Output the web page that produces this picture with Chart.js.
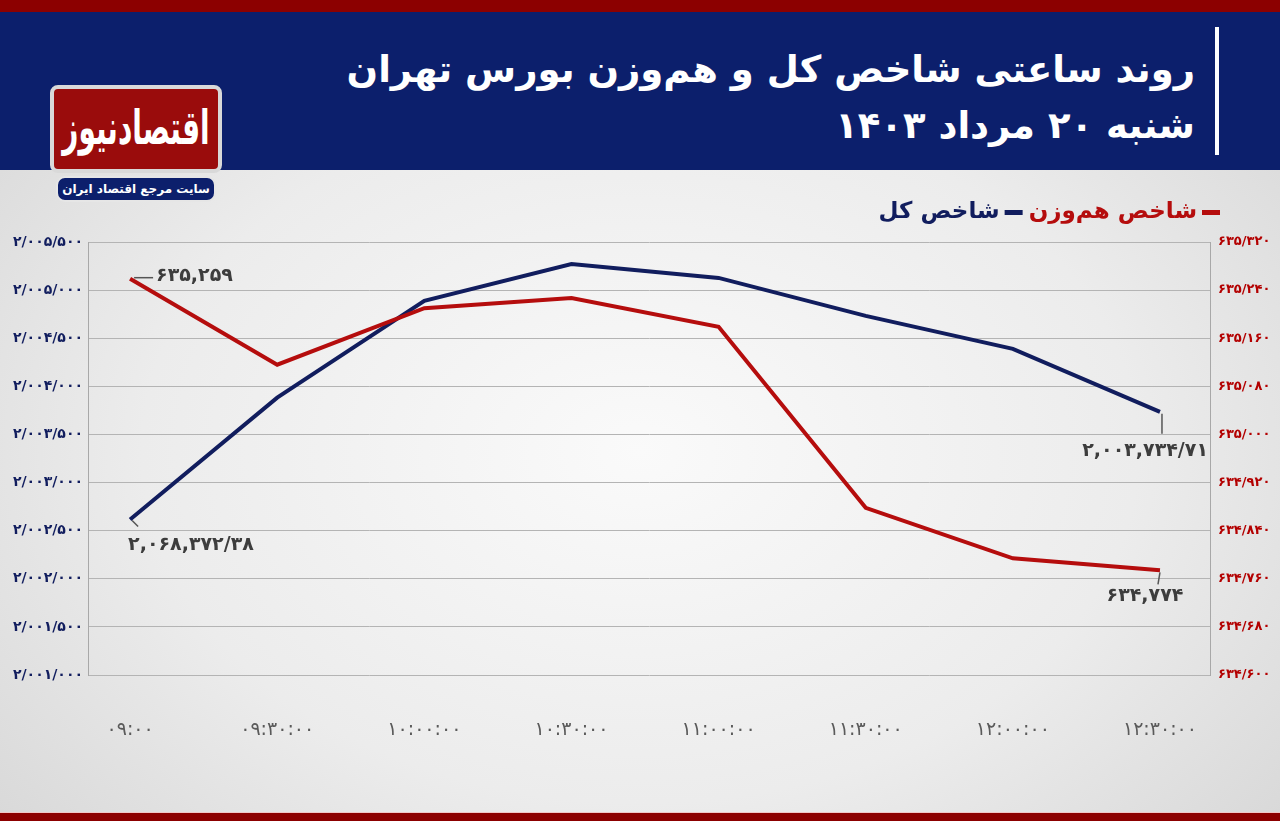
<!DOCTYPE html>
<html lang="fa">
  <head>
    <meta charset="UTF-8" />
    <title>شاخص کل و هم‌وزن</title>
    <script src="https://cdn.jsdelivr.net/npm/chart.js@4.4.0/dist/chart.umd.min.js"></script>
    <style>
      html, body { margin: 0; padding: 0; }
      body {
        width: 1280px; height: 821px; position: relative; overflow: hidden;
        background: radial-gradient(ellipse at 50% 55%, #fafafa 0%, #ececec 55%, #d4d4d4 100%);
        font-family: "DejaVu Sans", sans-serif;
      }
      #topband { position: absolute; left: 0; top: 0; width: 1280px; height: 12px; background: #8c0000; }
      #header { position: absolute; left: 0; top: 12px; width: 1280px; height: 158px; background: #0c1f6c; }
      #title {
        position: absolute; right: 85px; top: 30px; direction: rtl; text-align: right;
        color: #fff; font-weight: bold; font-size: 37px; line-height: 56px; white-space: nowrap;
      }
      #vline { position: absolute; left: 1215px; top: 15px; width: 4px; height: 128px; background: #fff; }
      #logo {
        position: absolute; left: 50px; top: 85px; width: 172px; height: 88px; box-sizing: border-box;
        border: 4px solid #d9d9d9; border-radius: 8px; background: #9a0c0c; overflow: hidden;
        color: #fff; font-weight: bold; font-size: 28px; text-align: center; line-height: 80px; direction: rtl;
      }
      #logo span { display: inline-block; transform: scale(1, 1.7); letter-spacing: -1px; }
      #pill {
        position: absolute; left: 56px; top: 176px; width: 160px; height: 26px; box-sizing: border-box;
        border: 2px solid #e6e6e6; border-radius: 9px; background: #0c1f6c;
        color: #fff; font-weight: bold; font-size: 12px; text-align: center; line-height: 22px; direction: rtl;
      }
      #bottomband { position: absolute; left: 0; top: 812px; width: 1280px; height: 9px; background: #8c0000; border-top: 1px solid #f0c8c8; }
      #myChart { position: absolute; left: 0; top: 170px; }
    </style>
  </head>
  <body>
    <div id="topband"></div>
    <div id="header">
      <div id="title">روند ساعتی شاخص کل و هم‌وزن بورس تهران<br>شنبه ۲۰ مرداد ۱۴۰۳</div>
      <div id="vline"></div>
    </div>
    <div id="logo"><span>اقتصادنیوز</span></div>
    <div id="pill">سایت مرجع اقتصاد ایران</div>
    <div id="bottomband"></div>
    <canvas id="myChart" width="1280" height="640"></canvas>

    <script>
      // chart data
      const times = ['09:00', '09:30:00', '10:00:00', '10:30:00', '11:00:00', '11:30:00', '12:00:00', '12:30:00'];
      const hamvaznValues = [635259, 635116, 635210, 635227, 635179, 634878, 634794, 634774];
      const kolValues = [2002616, 2003882, 2004888, 2005272, 2005127, 2004732, 2004390, 2003735];
      const seriesNames = ['شاخص هم‌وزن', 'شاخص کل'];
      const leftTicks = { min: 2001000, max: 2005500, step: 500 };
      const rightTicks = { min: 634600, max: 635320, step: 80 };
      // labels written at the first and last points (as printed on the picture)
      const hamvaznEndLabels = ['635,259', '634,774'];
      const kolEndLabels = ['2,068,372/38', '2,003,734/71'];

      const RED = '#b50d0d';
      const NAVY = '#111d5e';
      const FA = 'DejaVu Sans';

      function fa(s) {
        return String(s).replace(/\d/g, d => '۰۱۲۳۴۵۶۷۸۹'[d]);
      }
      function slashNum(v) {
        return fa(Math.round(v).toLocaleString('en-US').replace(/,/g, '/'));
      }

      // point labels, legend
      const extras = {
        id: 'extras',
        afterDatasetsDraw(chart) {
          const ctx = chart.ctx;
          const red = chart.getDatasetMeta(0).data;
          const blue = chart.getDatasetMeta(1).data;
          const last = times.length - 1;
          ctx.save();
          ctx.strokeStyle = '#555';
          ctx.lineWidth = 1.5;
          ctx.fillStyle = '#3d3d3d';
          ctx.font = 'bold 19px "' + FA + '"';
          ctx.direction = 'ltr';
          ctx.textBaseline = 'middle';

          // hamvazn first
          let p = red[0];
          ctx.beginPath(); ctx.moveTo(p.x + 4, p.y - 1); ctx.lineTo(p.x + 23, p.y - 1); ctx.stroke();
          ctx.textAlign = 'left';
          ctx.fillText(fa(hamvaznEndLabels[0]), p.x + 26, p.y - 3);
          // hamvazn last
          p = red[last];
          ctx.beginPath(); ctx.moveTo(p.x, p.y + 2); ctx.lineTo(p.x - 2, p.y + 14); ctx.stroke();
          ctx.textAlign = 'center';
          ctx.fillText(fa(hamvaznEndLabels[1]), p.x - 15, p.y + 26);
          // kol first
          p = blue[0];
          ctx.beginPath(); ctx.moveTo(p.x + 2, p.y + 1); ctx.lineTo(p.x + 8, p.y + 7); ctx.stroke();
          ctx.textAlign = 'left';
          ctx.fillText(fa(kolEndLabels[0]), p.x - 2, p.y + 26);
          // kol last
          p = blue[last];
          ctx.beginPath(); ctx.moveTo(p.x + 2, p.y + 2); ctx.lineTo(p.x + 2, p.y + 22); ctx.stroke();
          ctx.textAlign = 'right';
          ctx.fillText(fa(kolEndLabels[1]), p.x + 48, p.y + 39);

          // legend, right to left
          ctx.font = 'bold 23px "' + FA + '"';
          ctx.direction = 'rtl';
          ctx.textAlign = 'right';
          let x = 1220;
          const y = 42;
          chart.data.datasets.forEach(ds => {
            ctx.fillStyle = ds.borderColor;
            ctx.fillRect(x - 18, y - 2, 18, 5);
            x -= 23;
            ctx.fillText(ds.label, x, y);
            x -= ctx.measureText(ds.label).width + 6;
          });
          ctx.restore();
        }
      };

      const ctx = document.getElementById('myChart').getContext('2d');
      const myChart = new Chart(ctx, {
        type: 'line',
        data: {
          datasets: [
            {
              label: seriesNames[0],
              data: hamvaznValues.map((v, i) => ({ x: i, y: v })),
              yAxisID: 'yRight',
              borderColor: RED,
              backgroundColor: RED,
              borderWidth: 4,
              pointRadius: 0,
              fill: false
            },
            {
              label: seriesNames[1],
              data: kolValues.map((v, i) => ({ x: i, y: v })),
              yAxisID: 'yLeft',
              borderColor: NAVY,
              backgroundColor: NAVY,
              borderWidth: 4,
              pointRadius: 0,
              fill: false
            }
          ]
        },
        options: {
          responsive: false,
          animation: false,
          layout: { padding: { top: 72, left: 0, right: 0, bottom: 0 } },
          plugins: { legend: { display: false }, tooltip: { enabled: false } },
          scales: {
            x: {
              type: 'linear',
              min: -0.286,
              max: 7.34,
              afterBuildTicks: s => { s.ticks = times.map((t, i) => ({ value: i })); },
              afterFit: s => { s.height = 135; },
              grid: { display: false, drawTicks: false },
              border: { display: false },
              ticks: {
                autoSkip: false,
                maxRotation: 0,
                padding: 44,
                color: '#5a5a5a',
                font: { family: FA, size: 19 },
                callback: v => fa(times[v])
              }
            },
            yLeft: {
              position: 'left',
              min: leftTicks.min,
              max: leftTicks.max,
              afterFit: s => { s.width = 88; },
              afterBuildTicks: s => {
                const t = [];
                for (let v = leftTicks.min; v <= leftTicks.max; v += leftTicks.step) t.push({ value: v });
                s.ticks = t;
              },
              grid: { color: '#b4b4b4', lineWidth: 1, drawTicks: false },
              border: { display: true, color: '#a8a8a8' },
              ticks: {
                padding: 5,
                color: NAVY,
                font: { family: FA, size: 14, weight: 'bold' },
                callback: v => slashNum(v)
              }
            },
            yRight: {
              position: 'right',
              min: rightTicks.min,
              max: rightTicks.max,
              afterFit: s => { s.width = 70; },
              afterBuildTicks: s => {
                const t = [];
                for (let v = rightTicks.min; v <= rightTicks.max; v += rightTicks.step) t.push({ value: v });
                s.ticks = t;
              },
              grid: { display: false, drawTicks: false },
              border: { display: true, color: '#a8a8a8' },
              ticks: {
                padding: 8,
                color: '#b30000',
                font: { family: FA, size: 13, weight: 'bold' },
                callback: v => slashNum(v)
              }
            }
          }
        },
        plugins: [extras]
      });
    </script>
  </body>
</html>
